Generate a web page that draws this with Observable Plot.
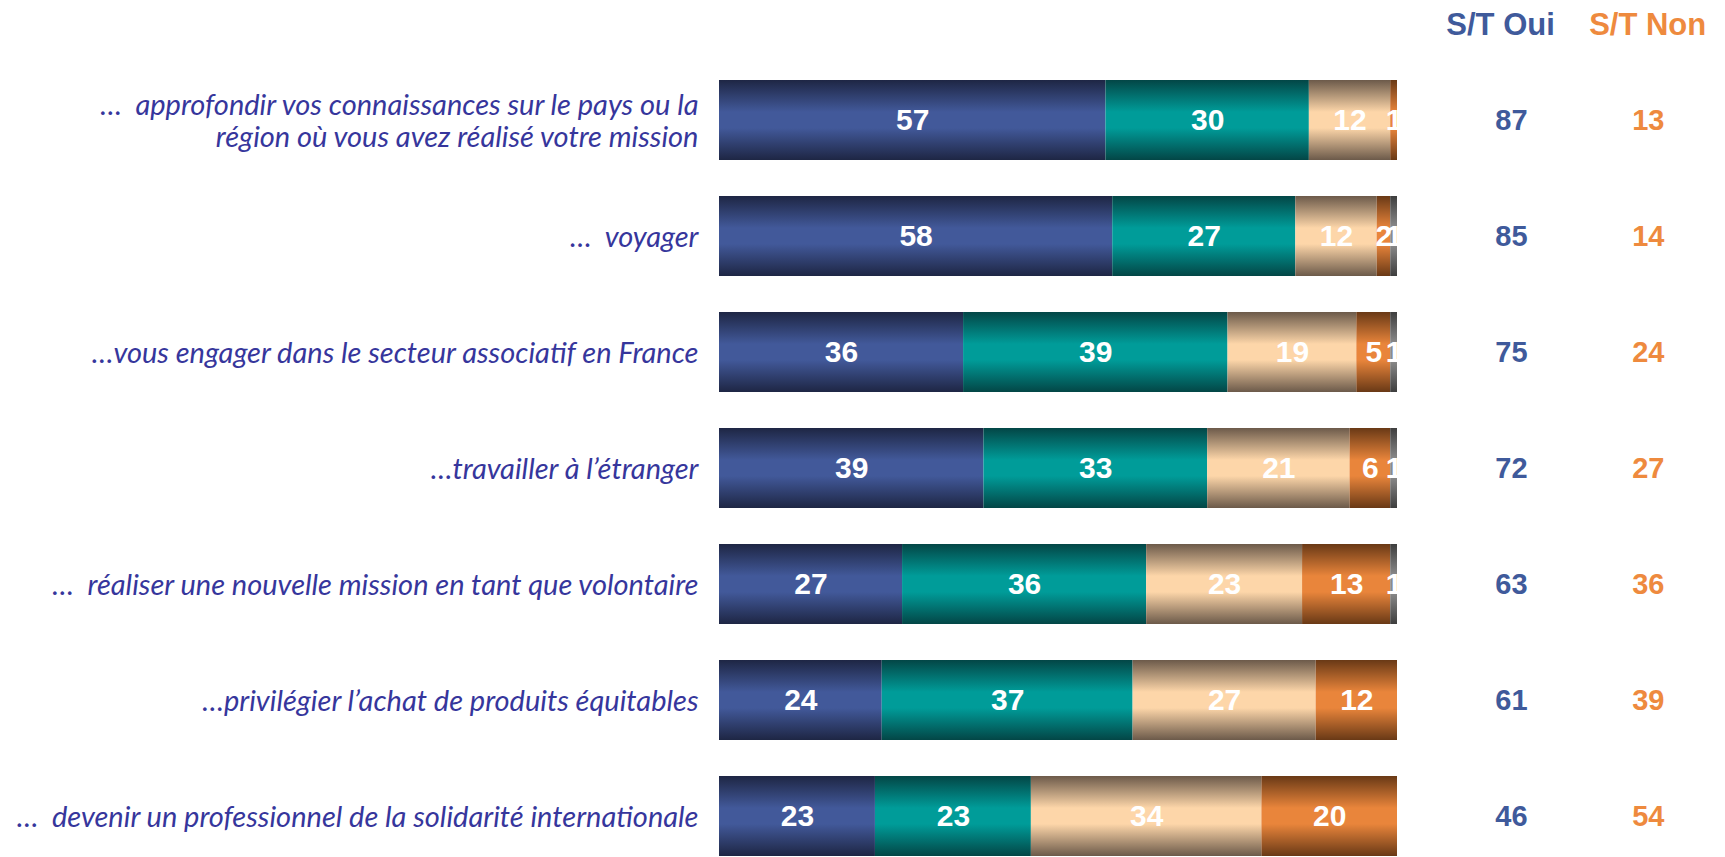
<!DOCTYPE html>
<html><head><meta charset="utf-8">
<script src="https://cdn.jsdelivr.net/npm/d3@7"></script>
<script src="https://cdn.jsdelivr.net/npm/@observablehq/plot@0.6"></script>
<style>html,body{margin:0;padding:0;background:#fff;overflow:hidden} #chart svg{display:block}</style>
</head><body><div id="chart"></div>
<script>
const labels = [
  "…  approfondir vos connaissances sur le pays ou la\nrégion où vous avez réalisé votre mission",
  "…  voyager",
  "…vous engager dans le secteur associatif en France",
  "…travailler à l’étranger",
  "…  réaliser une nouvelle mission en tant que volontaire",
  "…privilégier l’achat de produits équitables",
  "…  devenir un professionnel de la solidarité internationale"
];
const series = ["Oui, tout à fait", "Oui, plutôt", "Non, plutôt pas", "Non, pas du tout", "NSP"];
const tresOui   = [57, 58, 36, 39, 27, 24, 23];
const plutotOui = [30, 27, 39, 33, 36, 37, 23];
const plutotNon = [12, 12, 19, 21, 23, 27, 34];
const pasDuTout = [1, 2, 5, 6, 13, 12, 20];
const nsp       = [0, 1, 1, 1, 1, 0, 0];
const stOui = [87, 85, 75, 72, 63, 61, 46];
const stNon = [13, 14, 24, 27, 36, 39, 54];
const headers = ["S/T Oui", "S/T Non"];

const seriesValues = [tresOui, plutotOui, plutotNon, pasDuTout, nsp];
const rows = [];
series.forEach((s, i) => labels.forEach((l, j) => rows.push({label: l, series: s, value: seriesValues[i][j]})));
const totals = labels.map((l, j) => ({label: l, oui: stOui[j], non: stNon[j]}));

const gradColors = [
  ["#1e2644", "#42599a"],
  ["#034646", "#009c99"],
  ["#6c5a4a", "#fdd6a9"],
  ["#693916", "#e9853b"],
  ["#3e3e3e", "#8c8c8c"]
];

const defs = () => {
  const ns = "http://www.w3.org/2000/svg";
  const d = document.createElementNS(ns, "defs");
  gradColors.forEach(([dark, light], i) => {
    const lg = document.createElementNS(ns, "linearGradient");
    lg.setAttribute("id", "grad" + i);
    lg.setAttribute("x1", "0"); lg.setAttribute("y1", "0");
    lg.setAttribute("x2", "0"); lg.setAttribute("y2", "1");
    [[0, dark], [0.4, light], [0.6, light], [1, dark]].forEach(([o, c]) => {
      const st = document.createElementNS(ns, "stop");
      st.setAttribute("offset", o);
      st.setAttribute("stop-color", c);
      lg.appendChild(st);
    });
    d.appendChild(lg);
  });
  return d;
};

const labelFont = "Lato, 'Open Sans', sans-serif";
const numFont = "'Liberation Sans', Arial, sans-serif";

const chart = Plot.plot({
  width: 1725,
  height: 857,
  marginLeft: 719,
  marginRight: 328,
  marginTop: 78,
  marginBottom: 0,
  x: {domain: [0, 100], axis: null},
  y: {domain: labels, axis: null, paddingInner: 0.314, paddingOuter: 0},
  color: {domain: series, range: series.map((s, i) => `url(#grad${i})`)},
  marks: [
    defs,
    Plot.barX(rows, {x: "value", y: "label", fill: "series"}),
    Plot.text(rows.filter(d => d.value > 0), Plot.stackX({
      x: "value", y: "label", z: "series", text: "value",
      fill: "white", fontWeight: "bold", fontSize: 30, fontFamily: numFont, clip: true
    })),
    Plot.text(labels, {
      y: d => d, text: d => d, frameAnchor: "left", dx: -21, textAnchor: "end",
      fill: "#36369c", fontSize: 29, fontStyle: "italic", fontFamily: labelFont, lineHeight: 1.1
    }),
    Plot.text(totals, {y: "label", x: 116.8, text: "oui", fill: "#3f5a9b", fontWeight: "bold", fontSize: 29, fontFamily: numFont}),
    Plot.text(totals, {y: "label", x: 137, text: "non", fill: "#ee8a3e", fontWeight: "bold", fontSize: 29, fontFamily: numFont}),
    Plot.text([headers[0]], {x: 115.2, frameAnchor: "top", dy: -66, fill: "#3f5a9b", fontWeight: "bold", fontSize: 31, fontFamily: numFont}),
    Plot.text([headers[1]], {x: 136.9, frameAnchor: "top", dy: -66, fill: "#ee8a3e", fontWeight: "bold", fontSize: 31, fontFamily: numFont})
  ]
});
document.getElementById("chart").appendChild(chart);
</script>
</body></html>
